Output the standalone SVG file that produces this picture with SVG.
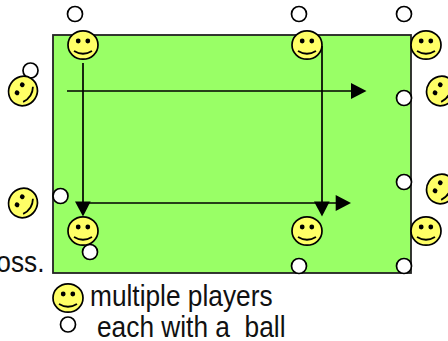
<svg xmlns="http://www.w3.org/2000/svg" width="448" height="341" viewBox="0 0 448 341">
<style>
.ball{fill:#fff;stroke:#000;stroke-width:1.7}
.face{fill:#ffff66;stroke:#000;stroke-width:1.7}
.eye{fill:#000}
.smile{fill:none;stroke:#000;stroke-width:1.8}
.ln{fill:none;stroke:#000;stroke-width:1.7}
.tx{font-family:"Liberation Sans",Arial,sans-serif;font-size:26.3px;fill:#111}
</style>
<defs>
<g id="smiley">
<ellipse class="face" cx="0" cy="0" rx="15" ry="14.2"/>
<circle class="eye" cx="-4.8" cy="-4" r="2.4"/>
<circle class="eye" cx="4.8" cy="-4" r="2.4"/>
<path class="smile" d="M-9 6Q0 11.5 9 6"/>
</g>
</defs>
<g id="field"><rect x="53" y="35" width="358" height="238" fill="#99ff66" stroke="#222" stroke-width="1.8"/></g>
<text id="label-loss" class="tx" transform="translate(44.500 272) scale(1 1.12)" text-anchor="end">oss.</text>
<g id="connectors">
<path class="ln" d="M67 91H352"/><path d="M351 83 L366.500 91 L351 99Z"/>
<path class="ln" d="M83 63V202"/><path d="M75 201.500 L90.700 201.500 L83 216.500Z"/>
<path class="ln" d="M83 203H336"/><path d="M335.700 195 L351 203 L335.700 211Z"/>
<path class="ln" d="M322 46V202"/><path d="M314 201.500 L329.700 201.500 L322 216.500Z"/>
</g>
<g id="ball-1"><circle class="ball" cx="75" cy="14" r="7.500"/></g>
<g id="ball-2"><circle class="ball" cx="299" cy="14" r="7.500"/></g>
<g id="ball-3"><circle class="ball" cx="404" cy="14" r="7.500"/></g>
<g id="ball-4"><circle class="ball" cx="30.500" cy="70.500" r="7.500"/></g>
<g id="ball-5"><circle class="ball" cx="404" cy="98" r="7.500"/></g>
<g id="ball-6"><circle class="ball" cx="60.500" cy="196" r="7.500"/></g>
<g id="ball-7"><circle class="ball" cx="404" cy="182" r="7.500"/></g>
<g id="ball-8"><circle class="ball" cx="90" cy="252" r="7.500"/></g>
<g id="ball-9"><circle class="ball" cx="299" cy="266" r="7.500"/></g>
<g id="ball-10"><circle class="ball" cx="404" cy="266" r="7.500"/></g>
<g id="player-1"><use href="#smiley" x="83" y="45"/></g>
<g id="player-2"><use href="#smiley" x="307" y="45"/></g>
<g id="player-3"><use href="#smiley" x="426" y="45"/></g>
<g id="player-4"><use href="#smiley" transform="translate(23 91) rotate(-57)"/></g>
<g id="player-5"><use href="#smiley" transform="translate(441 91) rotate(-57)"/></g>
<g id="player-6"><use href="#smiley" transform="translate(23 203) rotate(-57)"/></g>
<g id="player-7"><use href="#smiley" transform="translate(441 189) rotate(-57)"/></g>
<g id="player-8"><use href="#smiley" x="83" y="231"/></g>
<g id="player-9"><use href="#smiley" x="307" y="231"/></g>
<g id="player-10"><use href="#smiley" x="426" y="231"/></g>
<g id="legend">
<use href="#smiley" x="68" y="298"/>
<circle class="ball" cx="68" cy="324.500" r="7.500"/>
<text class="tx" transform="translate(90 305.500) scale(1 1.12)">multiple players</text>
<text class="tx" transform="translate(97 337) scale(1 1.12)" xml:space="preserve">each with a  ball</text>
</g>
</svg>
